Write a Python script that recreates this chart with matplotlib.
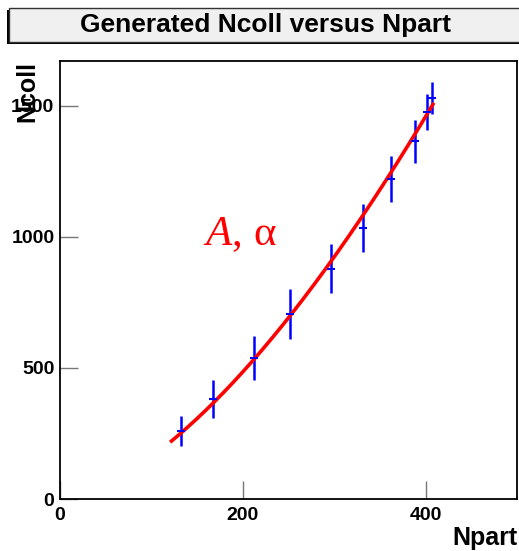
import numpy as np
import matplotlib
matplotlib.use('Agg')
import matplotlib.pyplot as plt
from matplotlib.patches import Rectangle

plt.rcParams['font.family'] = 'Liberation Sans'
plt.rcParams['mathtext.fontset'] = 'custom'
plt.rcParams['mathtext.it'] = 'Liberation Serif:italic'
plt.rcParams['mathtext.rm'] = 'Liberation Serif'

# generated points
npart = [132, 167, 212, 252, 297, 332, 362, 388, 402, 407]
ncoll = [260, 382, 537, 707, 878, 1033, 1222, 1364, 1476, 1529]
ncoll_err = [57, 72, 83, 95, 94, 92, 88, 81, 70, 62]

# power law fit  Ncoll = A * Npart^alpha
fit_A = 0.107
fit_alpha = 1.589
fit_range = (122, 408)

W, H = 519, 551
fig = plt.figure(figsize=(W / 100, H / 100), dpi=100)
ax = fig.add_axes([60 / W, 1 - 499 / H, 457 / W, 438 / H])

ax.errorbar(npart, ncoll, yerr=ncoll_err, fmt='_', color='blue',
            ms=6, mew=1.5, elinewidth=1.8, capsize=0)

xf = np.linspace(fit_range[0], fit_range[1], 200)
ax.plot(xf, fit_A * xf ** fit_alpha, color='red', lw=2.6)

ax.text(157, 1008, r'$A$, α', color='red', fontsize=31,
        family='Liberation Serif', va='center', ha='left')

ax.set_xlim(0, 500)
ax.set_ylim(0, 1671)
ax.set_xticks([0, 200, 400])
ax.set_yticks([0, 500, 1000, 1500])
ax.tick_params(direction='in', length=13, width=1, color='#777777',
               labelsize=14, pad=4)
for lab in ax.get_xticklabels() + ax.get_yticklabels():
    lab.set_fontweight('bold')
ax.tick_params(axis='x', pad=6)
for s in ax.spines.values():
    s.set_linewidth(1.3)

ax.set_xlabel('Npart', fontsize=18, fontweight='bold', loc='right', labelpad=1)
ax.set_ylabel('Ncoll', fontsize=18, fontweight='bold', loc='top', labelpad=-20)

# title box with shadow
fig.patches.append(Rectangle((7 / W, 1 - 44 / H), 530 / W, 34 / H,
                             transform=fig.transFigure, facecolor='black',
                             edgecolor='none', zorder=0))
fig.patches.append(Rectangle((9 / W, 1 - 42 / H), 530 / W, 34 / H,
                             transform=fig.transFigure, facecolor='#f0f0f0',
                             edgecolor='#333333', lw=1, zorder=1))
fig.text(265 / W, 1 - 25 / H, 'Generated Ncoll versus Npart', fontsize=19,
         fontweight='bold', ha='center', va='center')

fig.savefig('out.png', dpi=100)
